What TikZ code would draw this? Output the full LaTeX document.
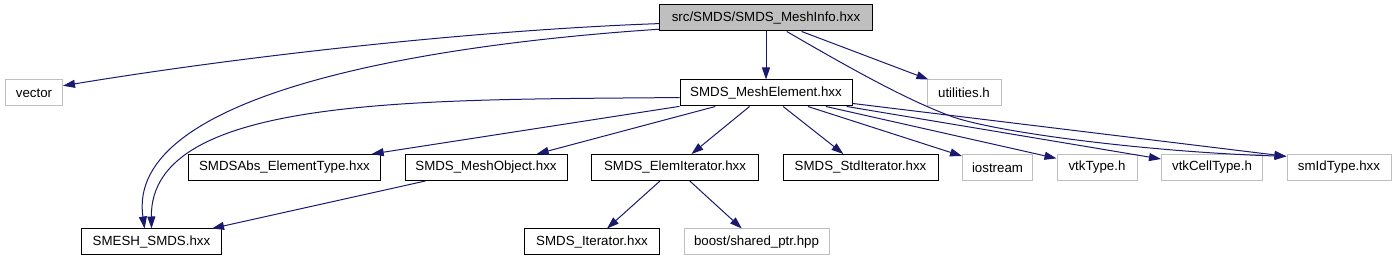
\documentclass[tikz,border=0pt]{standalone}
\usepackage{fontspec}
\setmainfont{Liberation Sans}
\usetikzlibrary{arrows.meta,positioning,calc}

\definecolor{edgeblue}{RGB}{25,25,112}
\definecolor{nodegray}{RGB}{191,191,191}

\begin{document}
\begin{tikzpicture}[
  x=1pt, y=-1pt,
  file/.style={draw=black, fill=white, line width=1pt, minimum height=26pt,
    inner xsep=9.5pt, inner ysep=0pt, font=\fontsize{13.3}{16}\selectfont},
  extfile/.style={file, draw=nodegray},
  topfile/.style={file, fill=nodegray},
  dep/.style={->, draw=edgeblue, line width=1pt},
  >={Triangle[length=12pt,width=8pt]}
]
  \useasboundingbox (0,0) rectangle (1396,261);

  % Files
  \node[topfile, minimum width=213pt] (info) at (766,18) {src/SMDS/SMDS\_MeshInfo.hxx};
  \node[extfile, minimum width=57pt] (vector) at (34,93) {vector};
  \node[file, minimum width=172pt] (elem) at (766,93) {SMDS\_MeshElement.hxx};
  \node[extfile, minimum width=74pt] (util) at (964,93) {utilities.h};

  \node[file, minimum width=192pt] (ET) at (284.5,167.5) {SMDSAbs\_ElementType.hxx};
  \node[file, minimum width=162pt, right=23.5pt of ET] (MO) {SMDS\_MeshObject.hxx};
  \node[file, minimum width=167pt, right=23.5pt of MO] (EI) {SMDS\_ElemIterator.hxx};
  \node[file, minimum width=155pt, right=23.5pt of EI] (SI) {SMDS\_StdIterator.hxx};
  \node[extfile, minimum width=69pt, right=23.5pt of SI] (ios) {iostream};
  \node[extfile, minimum width=80pt, right=23.5pt of ios] (vtk) {vtkType.h};
  \node[extfile, minimum width=101pt, right=23.5pt of vtk] (vtkcell) {vtkCellType.h};
  \node[extfile, minimum width=104pt, right=23.5pt of vtkcell] (smid) {smIdType.hxx};

  \node[file, minimum width=140pt] (SS) at (151.5,242) {SMESH\_SMDS.hxx};
  \node[file, minimum width=135pt] (It) at (592,242) {SMDS\_Iterator.hxx};
  \node[extfile, minimum width=145pt, right=23.5pt of It] (boost) {boost/shared\_ptr.hpp};

  % Includes
  \draw[dep] (info.183) .. controls (480,30) and (250,55) .. (vector.14);
  \draw[dep] (info.186) .. controls (420,45) and (125,95) .. (SS.117);
  \draw[dep] (info) -- (elem);
  \draw[dep] (info) -- (util);
  \draw[dep] (info.327) .. controls (870,80) and (915,103) .. (953,117)
    .. controls (1000,133) and (1150,152) .. (smid.168);

  \draw[dep] (elem.183) .. controls (420,100) and (150,95) .. (SS.90);
  \draw[dep] (elem) -- (ET);
  \draw[dep] (elem) -- (MO);
  \draw[dep] (elem) -- (EI);
  \draw[dep] (elem) -- (SI);
  \draw[dep] (elem) -- (ios);
  \draw[dep] (elem) -- (vtk);
  \draw[dep] (elem) -- (vtkcell);
  \draw[dep] (elem) -- (smid.168);

  \draw[dep] (MO) -- (SS);
  \draw[dep] (EI) -- (It);
  \draw[dep] (EI) -- (boost);

\end{tikzpicture}
\end{document}
